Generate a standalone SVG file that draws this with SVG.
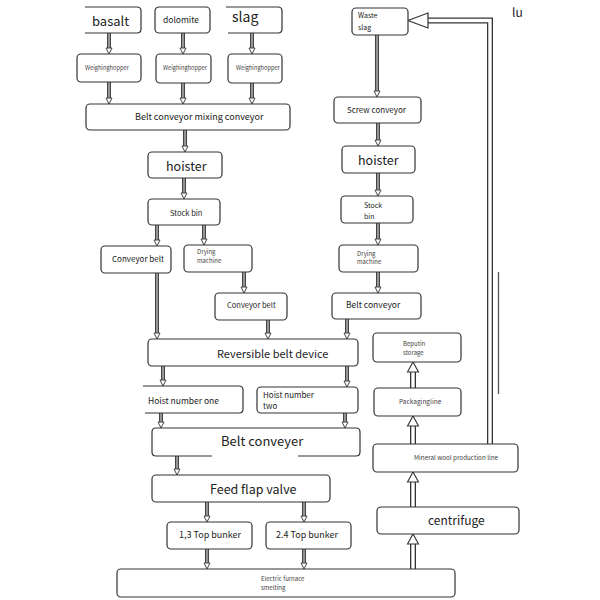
<svg xmlns="http://www.w3.org/2000/svg" width="600" height="600" viewBox="0 0 600 600">
<defs>
<style>
.box{fill:#fff;stroke:#333;stroke-width:1.2}
.t{font-family:"Noto Sans CJK SC","Noto Sans",sans-serif;fill:#222}
.s{fill:#444}
.dnO{fill:none;stroke:#444;stroke-width:4}
.dnI{fill:none;stroke:#aaa;stroke-width:1.6}
.upO{fill:none;stroke:#333;stroke-width:6;stroke-linejoin:miter}
.upI{fill:none;stroke:#fff;stroke-width:3.4;stroke-linejoin:miter}
</style>
<marker id="hd" markerUnits="userSpaceOnUse" markerWidth="10" markerHeight="10" viewBox="-1 -5 10 10" refX="0" refY="0" orient="auto">
<path d="M0,-3 L6,0 L0,3 Z" fill="#fff" stroke="#444" stroke-width="1"/>
</marker>
<marker id="hu" markerUnits="userSpaceOnUse" markerWidth="14" markerHeight="14" viewBox="-1 -7 14 14" refX="0" refY="0" orient="auto">
<path d="M0,-5.5 L10,0 L0,5.5 Z" fill="#fff" stroke="#333" stroke-width="1.1"/>
</marker>
<marker id="hb" markerUnits="userSpaceOnUse" markerWidth="24" markerHeight="20" viewBox="-1 -10 24 20" refX="0" refY="0" orient="auto">
<path d="M0,-7.5 L20,0 L0,7.5 Z" fill="#fff" stroke="#333" stroke-width="1.2"/>
</marker>
</defs>
<rect width="600" height="600" fill="#fff"/>

<g id="connectors">
<g id="down-outer" class="dnO">
<path d="M109,33 V48"/><path d="M183,33 V48"/><path d="M252,33 V48"/>
<path d="M109,82 V98"/><path d="M183,83 V98"/><path d="M252,83 V98"/>
<path d="M185,130 V146"/><path d="M184,178 V193"/>
<path d="M157,225 V240"/><path d="M204,225 V239"/>
<path d="M244,272 V287"/><path d="M157,273 V333"/><path d="M268,320 V333"/>
<path d="M377,35 V91"/><path d="M378,123 V140"/><path d="M378,173 V190"/>
<path d="M378,223 V239"/><path d="M378,272 V287"/><path d="M347,319 V333"/>
<path d="M163,366 V380"/><path d="M347,366 V381"/>
<path d="M161,413 V422"/><path d="M345,413 V422"/>
<path d="M177,456 V469"/>
<path d="M207,502 V516"/><path d="M304,502 V516"/>
<path d="M207,549 V563"/><path d="M304,549 V563"/>
</g>
<g id="down-inner" class="dnI" marker-end="url(#hd)">
<path d="M109,33 V48"/><path d="M183,33 V48"/><path d="M252,33 V48"/>
<path d="M109,82 V98"/><path d="M183,83 V98"/><path d="M252,83 V98"/>
<path d="M185,130 V146"/><path d="M184,178 V193"/>
<path d="M157,225 V240"/><path d="M204,225 V239"/>
<path d="M244,272 V287"/><path d="M157,273 V333"/><path d="M268,320 V333"/>
<path d="M377,35 V91"/><path d="M378,123 V140"/><path d="M378,173 V190"/>
<path d="M378,223 V239"/><path d="M378,272 V287"/><path d="M347,319 V333"/>
<path d="M163,366 V380"/><path d="M347,366 V381"/>
<path d="M161,413 V422"/><path d="M345,413 V422"/>
<path d="M177,456 V469"/>
<path d="M207,502 V516"/><path d="M304,502 V516"/>
<path d="M207,549 V563"/><path d="M304,549 V563"/>
</g>
<g id="up-outer" class="upO">
<path d="M413,569 V544"/><path d="M413,507 V482"/><path d="M413,444 V426"/><path d="M413,388 V372"/>
<path d="M490,444 V20.5 H428"/>
</g>
<g id="up-inner" class="upI">
<path d="M413,570 V544" marker-end="url(#hu)"/><path d="M413,508 V482" marker-end="url(#hu)"/><path d="M413,445 V426" marker-end="url(#hu)"/><path d="M413,389 V372" marker-end="url(#hu)"/>
<path d="M490,445 V20.5 H428" marker-end="url(#hb)"/>
</g>
<path d="M498.5,272 V394" fill="none" stroke="#555" stroke-width="1.3"/>
</g>

<g id="basalt"><path class="box" d="M85,7 H137 Q141,7 141,11 V29 Q141,33 137,33 H85"/><text class="t" x="92" y="26" font-size="13">basalt</text></g>
<g id="dolomite"><rect class="box" x="155" y="7" width="55" height="26" rx="4"/><text class="t" x="163" y="23" font-size="8.5">dolomite</text></g>
<g id="slag"><path class="box" d="M226,7 H278 Q282,7 282,11 V29 Q282,33 278,33 H228"/><text class="t" x="232" y="22" font-size="14">slag</text></g>
<g id="wh1"><rect class="box" x="77" y="54" width="64" height="28" rx="4"/><text class="t s" x="85" y="70" font-size="5.7">Weighinghopper</text></g>
<g id="wh2"><rect class="box" x="156" y="54" width="55" height="29" rx="4"/><text class="t s" x="163" y="70" font-size="5.7">Weighinghopper</text></g>
<g id="wh3"><rect class="box" x="228" y="54" width="54" height="29" rx="4"/><text class="t s" x="236" y="70" font-size="5.7">Weighinghopper</text></g>
<g id="mixing"><rect class="box" x="86" y="104" width="204" height="26" rx="4"/><text class="t" x="135" y="120" font-size="9">Belt conveyor mixing conveyor</text></g>
<g id="hoister-l"><rect class="box" x="148" y="152" width="74" height="26" rx="4"/><text class="t" x="166" y="171" font-size="12.5">hoister</text></g>
<g id="stock-l"><rect class="box" x="148" y="199" width="72" height="26" rx="4"/><text class="t" x="170" y="216" font-size="7.5">Stock bin</text></g>
<g id="cb1"><rect class="box" x="101" y="246" width="70" height="27" rx="4"/><text class="t" x="112" y="262" font-size="8">Conveyor belt</text></g>
<g id="dry-l"><rect class="box" x="184" y="245" width="68" height="27" rx="4"/><text class="t s" x="197" y="254" font-size="6">Drying</text><text class="t s" x="197" y="263" font-size="6">machine</text></g>
<g id="cb2"><rect class="box" x="215" y="293" width="72" height="27" rx="4"/><text class="t" x="227" y="308" font-size="7.5">Conveyor belt</text></g>

<g id="waste"><rect class="box" x="352" y="8" width="56" height="27" rx="4"/><text class="t" x="358" y="18" font-size="7">Waste</text><text class="t" x="358" y="30" font-size="7">slag</text></g>
<g id="screw"><rect class="box" x="334" y="97" width="87" height="26" rx="4"/><text class="t" x="347" y="113" font-size="8">Screw conveyor</text></g>
<g id="hoister-r"><rect class="box" x="342" y="146" width="73" height="27" rx="4"/><text class="t" x="358" y="165" font-size="12.5">hoister</text></g>
<g id="stock-r"><rect class="box" x="341" y="196" width="72" height="27" rx="4"/><text class="t" x="364" y="208" font-size="7">Stock</text><text class="t" x="364" y="219" font-size="7">bin</text></g>
<g id="dry-r"><rect class="box" x="339" y="245" width="79" height="27" rx="4"/><text class="t s" x="357" y="256" font-size="6">Drying</text><text class="t s" x="357" y="264" font-size="6">machine</text></g>
<g id="bc-r"><rect class="box" x="332" y="293" width="89" height="26" rx="4"/><text class="t" x="346" y="308" font-size="8.5">Belt conveyor</text></g>

<g id="reversible"><rect class="box" x="148" y="339" width="210" height="27" rx="4"/><text class="t" x="217" y="358" font-size="11">Reversible belt device</text></g>
<g id="hoist1"><path class="box" d="M143,386 H239 Q243,386 243,390 V409 Q243,413 239,413 H145"/><text class="t" x="148" y="404" font-size="8.5">Hoist number one</text></g>
<g id="hoist2"><rect class="box" x="257" y="387" width="101" height="26" rx="4"/><text class="t" x="263" y="398" font-size="8">Hoist number</text><text class="t" x="263" y="409" font-size="8">two</text></g>
<g id="beltconveyer"><path class="box" d="M298,456 H356 Q360,456 360,452 V432 Q360,428 356,428 H156 Q152,428 152,432 V452 Q152,456 156,456 H212"/><text class="t" x="221" y="446" font-size="13">Belt conveyer</text></g>
<g id="feed"><rect class="box" x="152" y="475" width="178" height="27" rx="4"/><text class="t" x="210" y="494" font-size="12.5">Feed flap valve</text></g>
<g id="bunker13"><rect class="box" x="167" y="522" width="85" height="27" rx="4"/><text class="t" x="179" y="538" font-size="9">1,3 Top bunker</text></g>
<g id="bunker24"><rect class="box" x="266" y="522" width="85" height="27" rx="4"/><text class="t" x="276" y="538" font-size="9">2.4 Top bunker</text></g>
<g id="furnace"><rect class="box" x="117" y="569" width="338" height="28" rx="4"/><text class="t s" x="261" y="581" font-size="6">Electric furnace</text><text class="t s" x="261" y="590" font-size="6">smelting</text></g>

<g id="beputin"><rect class="box" x="373" y="333" width="88" height="29" rx="4"/><text class="t s" x="403" y="346" font-size="6">Beputin</text><text class="t s" x="403" y="355" font-size="6">storage</text></g>
<g id="packaging"><rect class="box" x="374" y="388" width="87" height="28" rx="4"/><text class="t s" x="399" y="404" font-size="6.5">Packagingline</text></g>
<g id="mineral"><rect class="box" x="373" y="444" width="145" height="28" rx="4"/><text class="t s" x="414" y="460" font-size="6.3">Mineral wool production line</text></g>
<g id="centrifuge"><rect class="box" x="377" y="507" width="142" height="27" rx="4"/><text class="t" x="428" y="525" font-size="12">centrifuge</text></g>

<text class="t" x="512" y="17" font-size="12" fill="#333">lu</text>
</svg>
